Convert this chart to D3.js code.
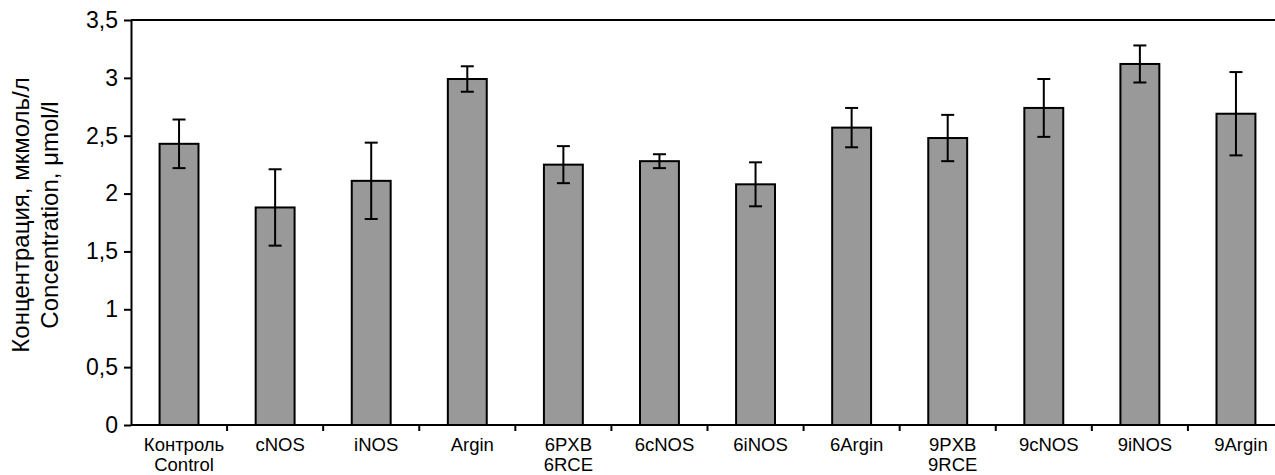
<!DOCTYPE html>
<html>
<head>
    <meta charset="utf-8">
    <title>Концентрация</title>
    <script src="https://d3js.org/d3.v7.min.js"></script>
    <style>
        body { margin: 0; background: #fff; }
        svg { display: block; font-family: "Liberation Sans", Arial, sans-serif; }
        .bar { fill: #999999; stroke: #000; stroke-width: 2; }
        .err { stroke: #000; stroke-width: 2; fill: none; }
        .axis path, .axis line { stroke: #000; stroke-width: 2; }
        .ytick text { font-size: 23px; fill: #000; }
        .xlab { font-size: 18.5px; fill: #000; }
        .ytitle { font-size: 24px; fill: #000; }
    </style>
</head>
<body>
    <svg width="1275" height="475"></svg>
    <script>
        var categories = ["Контроль\nControl", "cNOS", "iNOS", "Argin", "6PXB\n6RCE", "6cNOS",
                          "6iNOS", "6Argin", "9PXB\n9RCE", "9cNOS", "9iNOS", "9Argin"];
        var means  = [2.43, 1.88, 2.11, 2.99, 2.25, 2.28, 2.08, 2.57, 2.48, 2.74, 3.12, 2.69];
        var errors = [0.21, 0.33, 0.33, 0.11, 0.16, 0.06, 0.19, 0.17, 0.20, 0.25, 0.16, 0.36];
        var yTicks = [0, 0.5, 1, 1.5, 2, 2.5, 3, 3.5];

        var svg = d3.select("svg"),
            margin = {top: 20, left: 131, bottom: 50},
            plotRight = 1284,
            height = 475 - margin.bottom;

        var y = d3.scaleLinear().domain([0, 3.5]).range([height, margin.top]);

        // outer bands: one slot per category, bars sit centred inside
        var xOuter = d3.scaleBand().domain(categories).range([margin.left, plotRight]).padding(0);
        var x = d3.scaleBand().domain(categories).range([margin.left, plotRight])
                  .paddingInner(0.595).paddingOuter(0.2975);

        // top frame line
        svg.append("line")
           .attr("x1", margin.left).attr("x2", plotRight)
           .attr("y1", y(3.5)).attr("y2", y(3.5))
           .attr("stroke", "#000").attr("stroke-width", 2);

        // bars
        svg.selectAll(".bar")
           .data(categories)
           .enter().append("rect")
           .attr("class", "bar")
           .attr("x", function(d) { return x(d); })
           .attr("width", x.bandwidth())
           .attr("y", function(d, i) { return y(means[i]); })
           .attr("height", function(d, i) { return y(0) - y(means[i]); });

        // error bars
        var cap = 6.5;
        var eb = svg.selectAll(".eb")
           .data(categories)
           .enter().append("g")
           .attr("class", "err")
           .attr("transform", function(d) { return "translate(" + (x(d) + x.bandwidth() / 2) + ",0)"; });
        eb.append("line")
          .attr("y1", function(d, i) { return y(means[i] + errors[i]); })
          .attr("y2", function(d, i) { return y(means[i] - errors[i]); });
        eb.append("line").attr("x1", -cap).attr("x2", cap)
          .attr("y1", function(d, i) { return y(means[i] + errors[i]); })
          .attr("y2", function(d, i) { return y(means[i] + errors[i]); });
        eb.append("line").attr("x1", -cap).attr("x2", cap)
          .attr("y1", function(d, i) { return y(means[i] - errors[i]); })
          .attr("y2", function(d, i) { return y(means[i] - errors[i]); });

        // y axis
        svg.append("g")
           .attr("class", "axis ytick")
           .attr("transform", "translate(" + margin.left + ",0)")
           .call(d3.axisLeft(y).tickValues(yTicks).tickSize(7).tickSizeOuter(0).tickPadding(6)
                 .tickFormat(function(d) { return String(d).replace(".", ","); }))
           .call(function(g) { g.selectAll("text").attr("font-family", null); });

        // x axis line and boundary ticks
        var xa = svg.append("g").attr("class", "axis");
        xa.append("line")
          .attr("x1", margin.left).attr("x2", plotRight)
          .attr("y1", height).attr("y2", height);
        xa.selectAll(".bt")
          .data(categories.slice(1).concat(["end"]))
          .enter().append("line")
          .attr("x1", function(d, i) { return margin.left + xOuter.step() * (i + 1); })
          .attr("x2", function(d, i) { return margin.left + xOuter.step() * (i + 1); })
          .attr("y1", height).attr("y2", height + 6);

        // category labels (sit a little right of the band centre, as in the source)
        var labShift = 5;
        var lab = svg.selectAll(".xlab")
           .data(categories)
           .enter().append("text")
           .attr("class", "xlab")
           .attr("text-anchor", "middle")
           .attr("y", height + 26);
        lab.each(function(d) {
            var t = d3.select(this);
            d.split("\n").forEach(function(s, k) {
                t.append("tspan")
                 .attr("x", xOuter(d) + xOuter.bandwidth() / 2 + labShift)
                 .attr("dy", k === 0 ? 0 : 20)
                 .text(s);
            });
        });

        // y axis title
        var yt = svg.append("text")
           .attr("class", "ytitle")
           .attr("text-anchor", "middle")
           .attr("transform", "translate(29,215) rotate(-90)");
        yt.append("tspan").attr("x", 0).attr("y", 0).text("Концентрация, мкмоль/л");
        yt.append("tspan").attr("x", 0).attr("y", 29).text("Concentration, μmol/l");
    </script>
</body>
</html>
